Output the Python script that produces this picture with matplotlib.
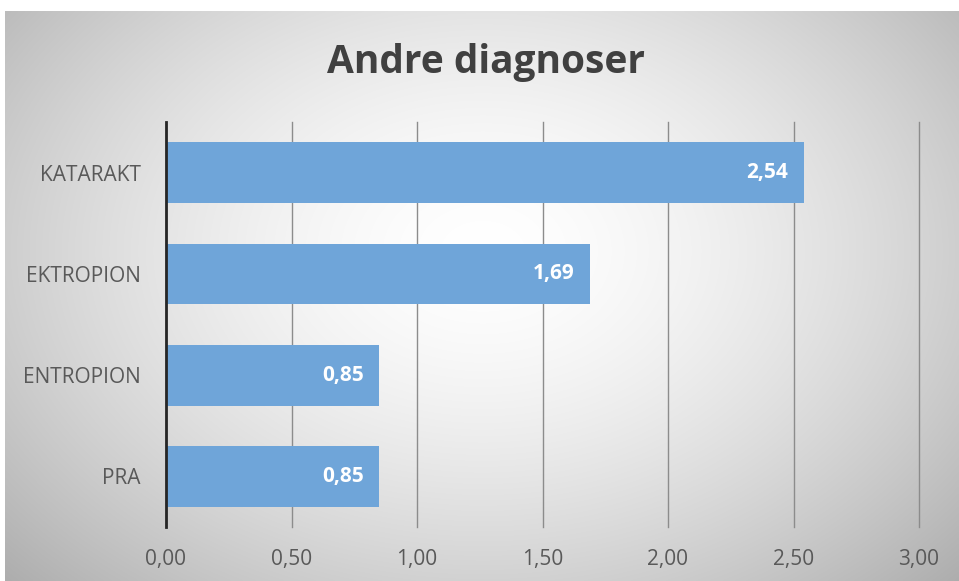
import numpy as np
import matplotlib
matplotlib.use("Agg")
import matplotlib.pyplot as plt

# Data
categories = ["KATARAKT", "EKTROPION", "ENTROPION", "PRA"]
values = [2.54, 1.69, 0.85, 0.85]
x_ticks = [0.0, 0.5, 1.0, 1.5, 2.0, 2.5, 3.0]
title = "Andre diagnoser"

W, H = 959, 581
fig = plt.figure(figsize=(W / 100, H / 100), dpi=100)
fig.patch.set_facecolor("white")

# Radial grey-white gradient behind the chart area
bg = fig.add_axes([5 / W, 0, 1 - 5 / W, 1 - 11 / H], zorder=-10)
ny, nx = 300, 500
yy, xx = np.mgrid[0:ny, 0:nx]
cx, cy = nx * 0.5, ny * 0.42
r = np.sqrt(((xx - cx) / (nx * 0.62)) ** 2 + ((yy - cy) / (ny * 0.75)) ** 2)
shade = np.clip(1.0 - 0.27 * r ** 1.6, 0, 1)
img = np.dstack([shade, shade, shade])
bg.imshow(img, aspect="auto", extent=[0, 1, 0, 1], origin="upper", interpolation="bilinear")
bg.set_axis_off()

font = ["Open Sans", "DejaVu Sans"]

ax = fig.add_axes([166 / W, (H - 527) / H, (919 - 166) / W, (527 - 122) / H])
ax.set_facecolor("none")

ypos = np.arange(len(categories))[::-1]
bars = ax.barh(ypos, values, height=0.6, color="#6FA5D9", edgecolor="none", zorder=3)

ax.set_xlim(0, 3.0)
ax.set_ylim(-0.5, len(categories) - 0.5)
ax.set_xticks(x_ticks)
ax.set_xticklabels([f"{t:.2f}".replace(".", ",") for t in x_ticks],
                   fontfamily=font, fontsize=15, color="#595959")
ax.set_yticks(ypos)
ax.set_yticklabels(categories, fontfamily=font, fontsize=15, color="#595959")
ax.tick_params(axis="x", length=0, pad=16)
ax.tick_params(axis="y", length=0, pad=18)

ax.grid(axis="x", color="#8C8C8C", linewidth=1, zorder=1)
for gl in ax.get_xgridlines():
    gl.set_clip_on(False)
ax.set_axisbelow(True)
for s in ["top", "right", "bottom"]:
    ax.spines[s].set_visible(False)
ax.spines["left"].set_color("#262626")
ax.spines["left"].set_linewidth(2)
ax.spines["left"].set_zorder(4)

for y, v in zip(ypos, values):
    ax.annotate(f"{v:.2f}".replace(".", ","), xy=(v, y), xytext=(-11, 0),
                textcoords="offset points", ha="right", va="center",
                fontfamily=font, fontsize=15, fontweight="bold", color="white", zorder=5)

fig.text(486 / W, 1 - 63 / H, title, ha="center", va="center",
         fontfamily=font, fontsize=28, fontweight="bold", color="#404040")

fig.savefig("out.png", dpi=100)
